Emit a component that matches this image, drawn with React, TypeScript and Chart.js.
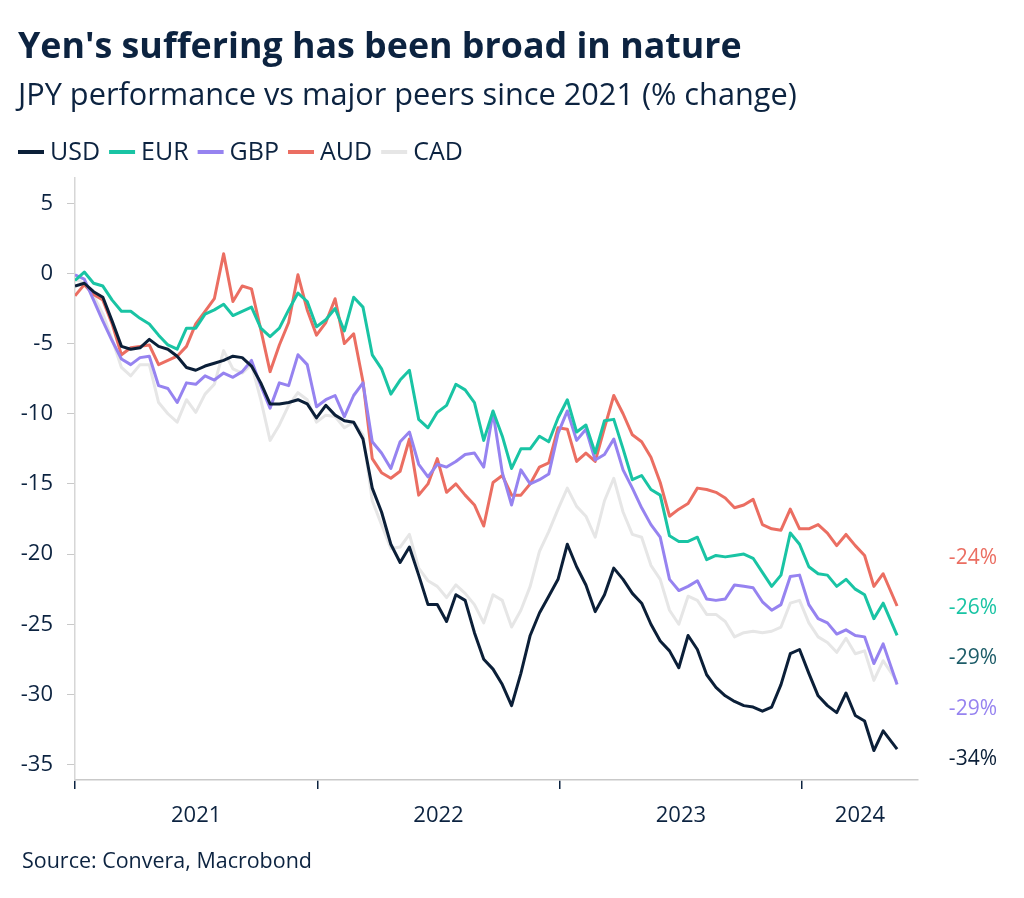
import React, { useEffect, useRef } from 'react';
import { Chart, registerables } from 'chart.js';

Chart.register(...registerables);

// ---------------- DATA ----------------
const TITLE = "Yen's suffering has been broad in nature";
const SUBTITLE = 'JPY performance vs major peers since 2021 (% change)';
const SOURCE = 'Source: Convera, Macrobond';

// weeks since the first week of January 2021 (fortnightly samples)
const weekOffsets = [
  0, 2, 4, 6, 8, 10, 12, 14, 16, 18, 20, 22, 24, 26, 28, 30, 32, 34, 36, 38,
  40, 42, 44, 46, 48, 50, 52, 54, 56, 58, 60, 62, 64, 66, 68, 70, 72, 74, 76, 78,
  80, 82, 84, 86, 88, 90, 92, 94, 96, 98, 100, 102, 104, 106, 108, 110, 112, 114, 116, 118,
  120, 122, 124, 126, 128, 130, 132, 134, 136, 138, 140, 142, 144, 146, 148, 150, 152, 154, 156, 158,
  160, 162, 164, 166, 168, 170, 172, 174, 177,
];

const yearLabels = ['2021', '2022', '2023', '2024'];
const yTickValues = [-35, -30, -25, -20, -15, -10, -5, 0, 5];

const usdValues = [
  -0.9, -0.7, -1.3, -1.7, -3.4, -5.2, -5.4, -5.3, -4.7, -5.2,
  -5.4, -5.9, -6.7, -6.9, -6.6, -6.4, -6.2, -5.9, -6.0, -6.6,
  -7.8, -9.3, -9.3, -9.2, -9.0, -9.3, -10.3, -9.4, -10.1, -10.5,
  -10.6, -11.8, -15.3, -17.0, -19.3, -20.6, -19.5, -21.5, -23.6, -23.6,
  -24.8, -22.9, -23.3, -25.6, -27.5, -28.2, -29.3, -30.8, -28.5, -25.8,
  -24.2, -23.0, -21.8, -19.3, -20.9, -22.2, -24.1, -22.9, -21.0, -21.8,
  -22.8, -23.5, -25.0, -26.2, -26.9, -28.1, -25.8, -26.8, -28.6, -29.5,
  -30.1, -30.5, -30.8, -30.9, -31.2, -30.9, -29.3, -27.1, -26.8, -28.5,
  -30.1, -30.8, -31.3, -29.9, -31.5, -31.9, -34.0, -32.6, -33.9,
];

const eurValues = [
  -0.5, 0.1, -0.7, -0.9, -1.9, -2.7, -2.7, -3.2, -3.6, -4.4,
  -5.1, -5.4, -3.9, -3.9, -2.9, -2.6, -2.2, -3.0, -2.7, -2.4,
  -3.9, -4.5, -3.9, -2.6, -1.4, -2.0, -3.8, -3.3, -2.5, -4.1,
  -1.7, -2.4, -5.8, -6.8, -8.6, -7.6, -6.9, -10.4, -11.0, -9.9,
  -9.4, -7.9, -8.3, -9.2, -11.9, -9.8, -11.6, -13.9, -12.5, -12.5,
  -11.6, -12.0, -10.3, -9.0, -11.3, -10.8, -12.8, -10.5, -10.4, -12.5,
  -14.7, -14.4, -15.4, -15.8, -18.7, -19.1, -19.1, -18.8, -20.4, -20.1,
  -20.2, -20.1, -20.0, -20.3, -21.3, -22.3, -21.5, -18.5, -19.3, -20.9,
  -21.4, -21.5, -22.3, -21.8, -22.5, -22.9, -24.6, -23.5, -25.8,
];

const gbpValues = [
  -0.1, -0.4, -1.9, -3.4, -4.8, -6.1, -6.5, -6.0, -5.9, -8.0,
  -8.2, -9.2, -7.8, -7.9, -7.3, -7.6, -7.1, -7.4, -7.0, -6.2,
  -8.0, -9.6, -7.8, -8.0, -5.8, -6.5, -9.5, -9.0, -8.7, -10.2,
  -8.7, -7.8, -12.0, -12.8, -13.9, -12.0, -11.3, -13.6, -14.5, -13.6,
  -13.8, -13.4, -12.9, -12.8, -13.8, -9.9, -14.2, -16.5, -14.0, -15.0,
  -14.7, -14.3, -11.4, -9.8, -11.9, -11.1, -13.3, -12.9, -11.8, -14.0,
  -15.3, -16.7, -17.9, -18.8, -21.8, -22.6, -22.3, -21.9, -23.2, -23.3,
  -23.2, -22.2, -22.3, -22.4, -23.4, -24.0, -23.6, -21.6, -21.5, -23.6,
  -24.6, -24.9, -25.7, -25.4, -25.8, -25.9, -27.8, -26.4, -29.3,
];

const audValues = [
  -1.6, -0.8, -1.5, -1.9, -3.6, -5.8, -5.3, -5.2, -5.1, -6.5,
  -6.2, -5.9, -5.2, -3.6, -2.7, -1.8, 1.4, -2.0, -0.9, -1.1,
  -4.0, -7.0, -5.1, -3.5, -0.1, -2.6, -4.4, -3.5, -1.8, -5.0,
  -4.3, -7.7, -13.2, -14.2, -14.6, -14.1, -11.8, -15.8, -15.0, -13.2,
  -15.6, -15.0, -15.8, -16.5, -18.0, -14.9, -14.4, -15.8, -15.8, -15.0,
  -13.8, -13.5, -11.0, -11.1, -13.4, -12.8, -13.4, -11.0, -8.7, -10.0,
  -11.5, -12.0, -13.1, -14.9, -17.3, -16.8, -16.4, -15.3, -15.4, -15.6,
  -16.0, -16.7, -16.5, -16.1, -17.9, -18.2, -18.3, -16.8, -18.2, -18.2,
  -17.9, -18.5, -19.4, -18.6, -19.4, -20.1, -22.3, -21.4, -23.7,
];

const cadValues = [
  -0.4, -0.7, -1.6, -2.9, -4.7, -6.7, -7.3, -6.5, -6.5, -9.2,
  -10.0, -10.6, -9.0, -9.9, -8.6, -7.9, -5.5, -6.8, -7.1, -6.5,
  -9.0, -11.9, -10.8, -9.4, -8.5, -9.0, -10.6, -10.1, -10.2, -11.0,
  -10.6, -11.5, -16.2, -17.9, -19.6, -19.5, -18.6, -21.0, -21.9, -22.3,
  -23.1, -22.2, -22.8, -23.6, -24.9, -22.9, -23.3, -25.2, -24.0, -22.3,
  -19.8, -18.4, -16.8, -15.3, -16.6, -17.3, -18.8, -16.2, -14.6, -17.0,
  -18.6, -18.8, -20.8, -21.8, -24.0, -25.0, -23.0, -23.3, -24.3, -24.3,
  -24.8, -25.9, -25.6, -25.5, -25.6, -25.5, -25.2, -23.5, -23.3, -24.9,
  -25.9, -26.3, -27.0, -26.0, -27.1, -26.9, -29.0, -27.6, -29.1,
];

const seriesNames = ['USD', 'EUR', 'GBP', 'AUD', 'CAD'];
const seriesValues = [usdValues, eurValues, gbpValues, audValues, cadValues];
const seriesColors = ['#0b1f38', '#19c4a4', '#9683f0', '#eb6e62', '#e6e6e6'];
const endLabelColors = ['#0b1f38', '#19c4a4', '#9683f0', '#eb6e62', '#1d5c68'];

// ---------------- STYLE ----------------
const FONT = '"Open Sans", "Noto Sans", sans-serif';
const NAVY = '#0c2340';
const WEEKS_PER_YEAR = 365.25 / 7;

const fitFont = (ctx: CanvasRenderingContext2D, text: string, weight: string, target: number) => {
  ctx.font = `${weight} 100px ${FONT}`;
  const w = ctx.measureText(text).width;
  return (100 * target) / w;
};

const headerPlugin = {
  id: 'header',
  beforeDraw(chart: any) {
    const ctx: CanvasRenderingContext2D = chart.ctx;
    ctx.save();
    ctx.fillStyle = '#ffffff';
    ctx.fillRect(0, 0, chart.width, chart.height);
    ctx.fillStyle = NAVY;
    ctx.textAlign = 'left';
    ctx.textBaseline = 'alphabetic';

    const ts = fitFont(ctx, TITLE, '700', 724);
    ctx.font = `700 ${ts}px ${FONT}`;
    ctx.fillText(TITLE, 18, 58);

    const ss = fitFont(ctx, SUBTITLE, '400', 779);
    ctx.font = `400 ${ss}px ${FONT}`;
    ctx.fillText(SUBTITLE, 18, 105);

    // legend
    ctx.font = `400 25px ${FONT}`;
    ctx.textBaseline = 'middle';
    let x = 18;
    const ly = 152;
    seriesNames.forEach((name, i) => {
      ctx.strokeStyle = seriesColors[i];
      ctx.lineWidth = 4;
      ctx.lineCap = 'butt';
      ctx.beginPath();
      ctx.moveTo(x, ly);
      ctx.lineTo(x + 26, ly);
      ctx.stroke();
      ctx.fillStyle = NAVY;
      ctx.fillText(name, x + 32, ly + 1);
      x += 32 + ctx.measureText(name).width + 9;
    });

    // source
    ctx.textBaseline = 'alphabetic';
    const fs = fitFont(ctx, SOURCE, '400', 290);
    ctx.font = `400 ${fs}px ${FONT}`;
    ctx.fillText(SOURCE, 22, 868);
    ctx.restore();
  },
};

const endLabelPlugin = {
  id: 'endLabels',
  afterDatasetsDraw(chart: any) {
    const ctx: CanvasRenderingContext2D = chart.ctx;
    const area = chart.chartArea;
    const items = seriesValues
      .map((vals, i) => ({ value: vals[vals.length - 1], color: endLabelColors[i] }))
      .sort((a, b) => b.value - a.value);
    const spacing = 50.25;
    const bottomY = area.bottom - 21;
    ctx.save();
    ctx.font = `400 21px ${FONT}`;
    ctx.textAlign = 'right';
    ctx.textBaseline = 'middle';
    items.forEach((it, i) => {
      const y = bottomY - (items.length - 1 - i) * spacing;
      ctx.fillStyle = it.color;
      ctx.fillText(`${Math.round(it.value)}%`, 997, y);
    });
    ctx.restore();
  },
};

export default function App() {
  const canvasRef = useRef<HTMLCanvasElement | null>(null);

  useEffect(() => {
    if (!canvasRef.current) return;
    const xMax = 181.5;
    const yearStarts = yearLabels.map((_, i) => i * WEEKS_PER_YEAR);
    const labelPos = yearLabels.map((_, i) =>
      i < yearLabels.length - 1 ? (i + 0.5) * WEEKS_PER_YEAR : (yearStarts[i] + xMax) / 2
    );
    const xTicks = [...yearStarts, ...labelPos].sort((a, b) => a - b);
    const isBoundary = (v: number) => yearStarts.some((s) => Math.abs(s - v) < 1e-6);
    const labelFor = (v: number) => {
      const idx = labelPos.findIndex((p) => Math.abs(p - v) < 1e-6);
      return idx >= 0 ? yearLabels[idx] : '';
    };

    const chart = new Chart(canvasRef.current, {
      type: 'line',
      data: {
        datasets: seriesNames.map((name, i) => ({
          label: name,
          data: weekOffsets.map((w, j) => ({ x: w, y: seriesValues[i][j] })),
          borderColor: seriesColors[i],
          backgroundColor: seriesColors[i],
          borderWidth: 3,
          pointRadius: 0,
          tension: 0,
          borderJoinStyle: 'round' as const,
          fill: false,
        })),
      },
      options: {
        responsive: false,
        animation: false,
        layout: { padding: { top: 178, right: 106, bottom: 68, left: 0 } },
        plugins: {
          legend: { display: false },
          tooltip: { enabled: false },
          title: { display: false },
        },
        scales: {
          x: {
            type: 'linear',
            min: 0,
            max: xMax,
            afterFit: (s: any) => {
              s.height = 50;
            },
            afterBuildTicks: (s: any) => {
              s.ticks = xTicks.map((v) => ({ value: v }));
            },
            grid: {
              drawOnChartArea: false,
              drawTicks: true,
              tickLength: 9,
              lineWidth: 1.5,
              color: (c: any) => (c.tick && isBoundary(c.tick.value) ? NAVY : 'rgba(0,0,0,0)'),
            },
            border: { display: true, color: '#c9c9c9', width: 1.5 },
            ticks: {
              autoSkip: false,
              maxRotation: 0,
              padding: 14,
              color: NAVY,
              font: { family: FONT, size: 22 },
              callback: (v: any) => labelFor(Number(v)),
            },
          },
          y: {
            min: -36.1,
            max: 6.8,
            afterFit: (s: any) => {
              s.width = 75;
            },
            afterBuildTicks: (s: any) => {
              s.ticks = yTickValues.map((v) => ({ value: v }));
            },
            grid: {
              drawOnChartArea: false,
              drawTicks: true,
              tickLength: 8,
              color: '#c9c9c9',
            },
            border: { display: true, color: '#d6d6d6', width: 1.5 },
            ticks: {
              padding: 14,
              color: NAVY,
              font: { family: FONT, size: 22 },
              callback: (v: any) => String(v),
            },
          },
        },
      },
      plugins: [headerPlugin, endLabelPlugin],
    } as any);

    return () => chart.destroy();
  }, []);

  return (
    <div style={{ width: 1024, height: 898, position: 'relative', background: '#fff' }}>
      <style>{`html,body{margin:0;padding:0;background:#fff;}`}</style>
      <canvas ref={canvasRef} width={1024} height={898} style={{ display: 'block' }} />
    </div>
  );
}
